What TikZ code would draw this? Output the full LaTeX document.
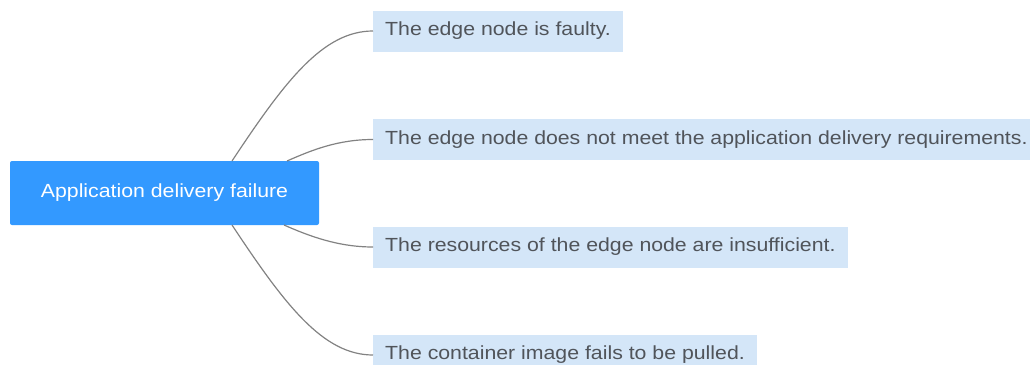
\documentclass[tikz,border=0pt]{standalone}
\usepackage{fontspec}
\setmainfont{Liberation Sans}[FakeStretch=1.12]
\begin{document}
\begin{tikzpicture}[x=1pt,y=-1pt,
  rootbox/.style={fill=rootblue, text=white, rounded corners=2pt,
    minimum width=309pt, minimum height=64pt, inner sep=0pt,
    font=\fontsize{19pt}{22pt}\selectfont},
  leafbox/.style={fill=leafblue, text=leaftext, anchor=west,
    minimum height=41pt, inner xsep=12pt, inner ysep=0pt,
    font=\fontsize{19pt}{22pt}\selectfont},
  link/.style={draw=linkgray, line width=1.2pt}]
\definecolor{rootblue}{RGB}{51,153,255}
\definecolor{leafblue}{RGB}{212,230,248}
\definecolor{leaftext}{RGB}{80,84,90}
\definecolor{linkgray}{RGB}{130,130,130}
\useasboundingbox (0,0) rectangle (1030,364);
\clip (0,0) rectangle (1030,364);

% central topic
\node[rootbox] (root) at (164.5,193) {Application delivery failure};

% branches
\node[leafbox] (l1) at (373,31)    {The edge node is faulty.};
\node[leafbox] (l2) at (373,139.5) {The edge node does not meet the application delivery requirements.};
\node[leafbox] (l3) at (373,247)   {The resources of the edge node are insufficient.};
\node[leafbox] (l4) at (373,355)   {The container image fails to be pulled.};

% attachment points on the central topic
\coordinate (r1) at (232,161);
\coordinate (r2) at (287,161);
\coordinate (r3) at (284,225);
\coordinate (r4) at (232,225);

% curved connectors
\draw[link] (r1) .. controls (285,81) and (323,31) .. (l1.west);
\draw[link] (r2) .. controls (312,150) and (338,139.5) .. (l2.west);
\draw[link] (r3) .. controls (309,236) and (338,247) .. (l3.west);
\draw[link] (r4) .. controls (285,305) and (323,355) .. (l4.west);
\end{tikzpicture}
\end{document}
